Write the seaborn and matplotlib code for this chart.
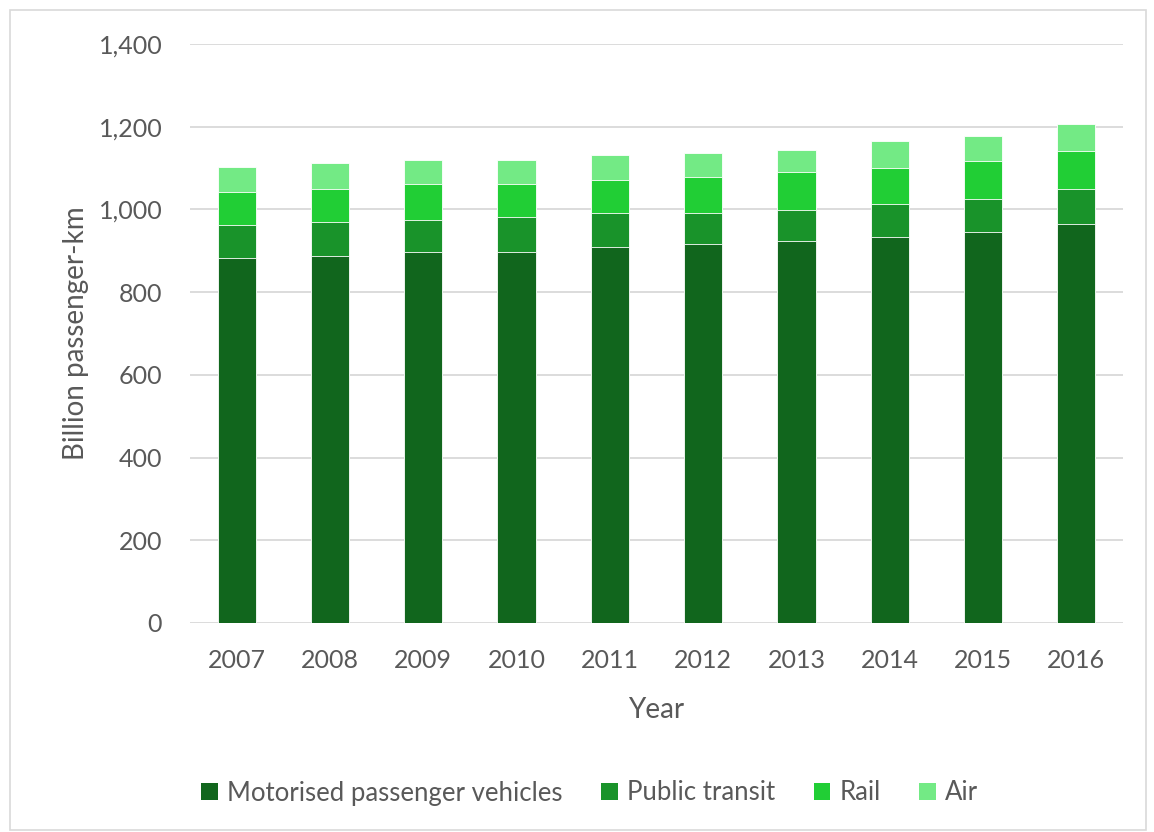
import matplotlib
matplotlib.use("Agg")
import matplotlib.pyplot as plt
from matplotlib.ticker import FuncFormatter, MultipleLocator
from matplotlib.patches import Rectangle, Patch
import numpy as np
import pandas as pd
import seaborn as sns

# Passenger-km by mode, billions
years = ["2007", "2008", "2009", "2010", "2011", "2012", "2013", "2014", "2015", "2016"]
motorised = [882, 887, 898, 898, 910, 916, 923, 934, 945, 964]
public_transit = [81, 82, 77, 83, 82, 76, 75, 80, 81, 85]
rail = [80, 80, 86, 80, 79, 86, 92, 86, 92, 93]
air = [59, 64, 59, 59, 60, 58, 53, 65, 60, 64]

series_names = ["Motorised passenger vehicles", "Public transit", "Rail", "Air"]
colors = ["#11661d", "#19932a", "#21ce35", "#73ea85"]

sns.set_theme(style="white")
plt.rcParams["font.family"] = ["Lato", "DejaVu Sans"]

df = pd.DataFrame({
    "Year": years,
    "motor": motorised,
    "pt": public_transit,
    "rail": rail,
    "air": air,
})
# cumulative stacks, drawn from the tallest down so each layer shows its own band
df["c1"] = df["motor"]
df["c2"] = df["c1"] + df["pt"]
df["c3"] = df["c2"] + df["rail"]
df["c4"] = df["c3"] + df["air"]

fig = plt.figure(figsize=(11.54, 8.32), dpi=100)
ax = fig.add_axes([190 / 1154, 1 - 623 / 832, 933 / 1154, 579 / 832])

for col, color in zip(["c4", "c3", "c2", "c1"], colors[::-1]):
    sns.barplot(data=df, x="Year", y=col, color=color, width=0.41,
                edgecolor="#ffffff", linewidth=0.6, saturation=1, ax=ax, zorder=3)

ax.set_ylim(0, 1400)
ax.yaxis.set_major_locator(MultipleLocator(200))
ax.yaxis.set_major_formatter(FuncFormatter(lambda v, p: f"{int(v):,}"))
ax.grid(axis="y", color="#d9d9d9", linewidth=1.3, zorder=0)
ax.set_axisbelow(True)
for s in ax.spines.values():
    s.set_visible(False)

ax.tick_params(axis="y", length=0, pad=20, labelsize=18, labelcolor="#595959")
ax.tick_params(axis="x", length=0, pad=19, labelsize=18, labelcolor="#595959")

ax.set_ylabel("Billion passenger-km", fontsize=20, color="#595959")
ax.set_xlabel("Year", fontsize=20, color="#595959")
ax.yaxis.set_label_coords(-0.108, 0.5)
ax.xaxis.set_label_coords(0.5, -0.127)

handles = [Patch(facecolor=c, edgecolor="none") for c in colors]
fig.legend(handles, series_names, loc="center", bbox_to_anchor=(0.511, 1 - 793 / 832),
           ncol=4, frameon=False, fontsize=18.5, handlelength=0.65, handleheight=0.65,
           handletextpad=0.35, columnspacing=1.5, labelcolor="#595959")

# outer chart border
fig.patches.append(Rectangle((10 / 1154, 2 / 832), 1136 / 1154, 820 / 832,
                             transform=fig.transFigure, fill=False,
                             edgecolor="#d9d9d9", linewidth=1.2))

fig.savefig("out.png", dpi=100)
